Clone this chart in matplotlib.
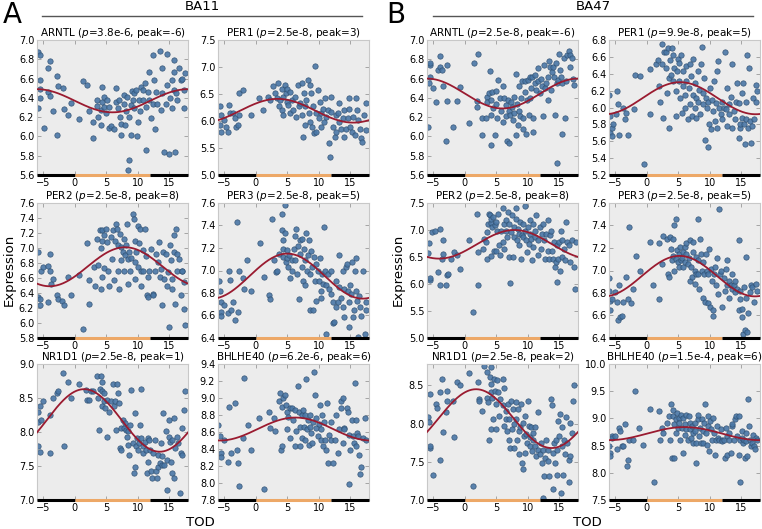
import numpy as np
import matplotlib
matplotlib.use("Agg")
import matplotlib.pyplot as plt
from matplotlib.ticker import FormatStrFormatter, MultipleLocator

# ---------------- data ----------------
# BA11 / ARNTL
a_arntl_x = [-5.9,-5.6,-5.6,-5.5,-5.5,-5.9,-4.9,-4.3,-4.0,-4.3,-3.9,-3.5,-2.8,-2.8,-2.7,-1.9,-1.7,-1.1,-0.6,0.6,1.3,2.0,2.2,2.9,2.9,3.5,3.6,3.7,4.1,4.2,4.4,4.6,4.4,4.7,5.0,5.2,5.4,5.5,5.7,6.2,6.5,6.5,6.8,7.1,7.2,7.3,7.4,7.8,7.9,8.0,8.1,8.3,8.4,8.7,8.7,8.9,8.9,9.1,9.2,9.4,9.4,9.7,9.9,10.0,10.2,10.4,10.5,10.8,10.9,11.1,11.3,11.3,11.6,11.8,11.8,12.1,12.4,12.5,12.6,12.7,12.9,13.0,13.6,13.7,13.9,13.9,14.2,14.5,14.6,14.6,15.0,15.2,15.4,15.5,15.7,15.8,15.8,15.9,16.1,16.3,16.6,16.9,17.1,17.3,17.4,17.5]
a_arntl_y = [6.88,6.84,6.59,6.49,6.40,6.29,6.09,6.46,6.42,6.71,6.78,6.26,6.63,6.01,6.52,6.50,6.28,6.22,6.35,6.18,6.57,6.53,6.26,6.15,5.98,6.32,6.38,6.20,6.12,6.27,6.36,6.41,6.51,6.31,6.24,6.38,6.09,6.31,6.11,6.08,6.36,6.50,6.29,6.38,6.20,6.13,6.01,6.34,6.43,6.12,6.26,6.41,5.65,5.76,6.20,6.33,6.01,6.47,6.38,6.45,6.29,6.48,6.00,6.15,6.38,6.26,6.51,6.48,6.38,6.55,6.31,5.86,6.46,6.67,6.38,6.19,6.84,6.34,6.59,6.08,6.46,6.34,6.89,6.27,6.71,6.45,5.84,6.34,6.53,6.86,5.82,6.40,6.29,6.59,6.67,6.79,6.48,5.84,6.45,6.38,6.71,6.59,6.60,6.48,6.29,6.66]

# BA11 / PER1
a_per1_x = [-5.7,-5.6,-5.7,-5.5,-5.1,-4.7,-4.3,-4.1,-4.4,-3.6,-3.3,-3.1,-2.8,-2.6,-2.7,-2.0,-0.7,0.5,1.2,2.0,2.2,2.7,3.0,3.3,3.5,3.7,3.8,4.1,4.2,4.3,4.4,4.6,4.8,4.9,5.0,5.1,5.4,5.5,5.7,5.9,6.3,6.4,6.7,6.8,7.0,7.3,7.4,7.5,7.6,7.8,7.9,8.0,8.3,8.5,8.6,8.7,8.8,9.0,9.1,9.2,9.4,9.5,9.6,9.9,10.1,10.2,10.3,10.4,10.7,10.8,11.0,11.2,11.5,11.7,11.8,11.9,12.0,12.3,12.6,12.7,12.8,13.1,13.2,13.3,13.6,13.9,14.0,14.1,14.4,14.7,14.8,14.9,15.0,15.3,15.5,15.7,16.0,16.1,16.3,16.5,16.8,16.9,17.2,17.5,17.6]
a_per1_y = [6.28,6.11,5.93,5.80,6.02,5.89,6.30,6.14,5.80,6.14,6.05,5.89,5.93,6.11,6.51,6.57,6.11,6.42,6.20,6.45,6.39,6.64,6.51,6.42,6.70,6.27,6.39,6.20,6.60,6.11,6.45,6.67,6.51,6.36,6.60,6.30,6.54,6.14,6.39,6.20,6.45,6.08,6.67,6.27,6.33,6.70,6.11,5.71,6.51,6.27,5.93,6.39,6.76,6.14,6.67,5.99,6.51,5.89,6.27,5.77,7.01,5.80,6.14,6.57,6.05,6.36,5.89,6.14,6.23,5.99,6.42,6.08,6.20,5.59,5.34,6.17,6.45,5.89,5.71,6.11,5.80,6.14,6.33,5.99,5.86,6.05,6.20,5.71,5.86,6.05,6.23,6.42,5.89,5.80,6.08,5.74,6.42,6.20,6.02,5.86,5.68,5.62,6.11,6.33,5.83]

# BA11 / PER2
a_per2_x = [-5.8,-5.8,-5.6,-5.5,-5.4,-5.0,-4.3,-4.3,-4.0,-3.9,-3.8,-3.5,-2.8,-2.7,-2.1,-1.7,-1.1,-0.6,0.6,1.3,2.0,2.2,2.2,3.1,3.2,3.6,3.7,4.0,4.1,4.2,4.3,4.4,4.4,4.6,4.7,5.0,5.1,5.3,5.5,5.7,5.9,6.0,6.3,6.4,6.5,6.7,6.8,6.9,7.1,7.2,7.3,7.4,7.6,7.8,7.9,8.0,8.1,8.3,8.4,8.5,8.7,8.8,9.0,9.2,9.4,9.5,9.5,9.6,9.7,10.0,10.1,10.2,10.4,10.5,10.6,10.8,10.9,11.1,11.3,11.5,11.6,11.7,11.8,12.1,12.4,12.5,12.7,12.9,13.2,13.4,13.6,13.7,13.9,14.1,14.2,14.5,14.7,14.8,15.0,15.2,15.3,15.4,15.5,15.7,15.8,15.9,16.1,16.2,16.3,16.6,16.9,17.0,17.1,17.3,17.4,17.5]
a_per2_y = [6.95,6.35,6.24,6.32,6.70,6.75,6.76,6.28,6.70,6.92,6.52,6.59,6.37,6.32,6.30,6.24,6.62,6.37,6.64,5.92,7.07,6.57,6.25,6.75,6.50,7.12,6.77,7.24,6.46,7.00,7.24,7.10,6.61,7.17,6.74,7.26,7.08,6.70,6.50,7.15,6.86,7.24,6.57,7.10,7.32,7.26,7.04,6.70,6.46,7.19,6.84,7.02,6.95,6.70,7.12,6.91,7.04,7.32,6.52,6.86,6.95,6.70,6.87,7.46,7.39,7.10,6.81,6.59,6.95,7.30,6.75,7.07,7.26,6.50,6.70,6.97,6.70,7.26,6.90,6.37,6.61,6.35,6.70,6.99,6.39,6.37,6.70,6.92,6.81,7.08,6.61,6.72,6.24,6.95,6.59,6.92,6.50,6.68,5.95,7.04,6.84,6.46,6.59,6.95,7.17,6.26,7.26,6.92,6.70,6.86,6.37,6.70,6.70,6.19,6.55,5.97]

# BA11 / PER3
a_per3_x = [-5.9,-5.7,-5.6,-5.5,-5.5,-5.1,-4.4,-4.3,-4.1,-4.0,-3.6,-3.3,-3.0,-2.8,-2.7,-2.0,-1.8,-1.4,-0.7,0.6,1.3,2.1,2.2,2.6,2.9,3.2,3.4,3.7,4.1,4.2,4.3,4.3,4.4,4.6,4.6,4.8,4.9,5.0,5.1,5.3,5.4,5.7,5.8,6.0,6.2,6.3,6.4,6.5,6.7,6.8,7.0,7.1,7.3,7.4,7.5,7.6,7.8,7.9,8.0,8.2,8.3,8.5,8.6,8.7,8.8,9.0,9.1,9.2,9.4,9.5,9.6,9.9,10.1,10.2,10.3,10.4,10.6,10.7,10.8,11.0,11.1,11.2,11.5,11.7,11.9,12.0,12.2,12.3,12.4,12.7,12.8,13.1,13.2,13.3,13.6,13.8,13.9,14.0,14.1,14.3,14.5,14.7,14.8,14.9,15.0,15.2,15.3,15.5,15.6,15.7,15.9,16.0,16.1,16.3,16.4,16.6,16.8,17.0,17.3,17.5,17.6]
a_per3_y = [6.91,6.82,6.72,6.63,6.60,6.69,6.62,7.00,6.92,6.65,6.72,6.56,7.43,6.63,7.00,6.93,6.84,7.09,6.82,7.24,6.94,6.78,6.75,7.46,7.09,6.99,7.00,7.15,7.50,7.36,7.27,7.19,7.12,7.58,7.33,7.08,7.18,7.11,7.03,7.14,6.93,7.00,7.09,7.19,7.31,7.09,7.37,6.97,7.22,6.75,7.27,7.15,7.03,7.28,6.91,7.19,7.09,6.87,7.33,7.00,7.14,7.27,6.97,6.65,7.17,7.03,6.65,7.12,6.91,7.06,6.73,7.00,6.91,7.11,6.76,6.82,6.97,6.88,7.39,7.00,6.87,6.44,6.97,6.84,7.00,6.79,6.72,6.53,6.54,6.91,6.68,6.72,7.14,6.85,6.76,6.68,7.00,6.59,6.84,7.03,7.06,6.82,6.72,6.50,6.87,6.79,7.08,6.59,6.65,7.00,7.11,6.82,6.73,6.41,6.77,6.68,6.60,7.00,6.44,6.65,6.72]

# BA11 / NR1D1
a_nr1d1_x = [-5.9,-5.8,-5.8,-5.6,-5.5,-5.4,-5.0,-4.0,-3.9,-3.5,-2.8,-2.7,-1.9,-1.7,-1.1,-0.6,0.6,1.8,2.0,2.2,2.6,2.9,3.6,3.7,3.9,4.0,4.2,4.3,4.4,4.4,4.6,4.7,4.8,5.1,5.2,5.5,5.7,6.0,6.2,6.4,6.5,6.7,6.8,7.1,7.2,7.3,7.4,7.6,7.8,8.0,8.1,8.3,8.4,8.5,8.7,8.8,9.0,9.2,9.4,9.5,9.6,9.7,9.9,10.0,10.2,10.4,10.5,10.6,10.8,10.9,11.1,11.3,11.5,11.6,11.7,11.8,12.0,12.1,12.2,12.5,12.7,12.9,13.0,13.2,13.3,13.6,13.7,13.8,13.9,14.1,14.2,14.5,14.6,14.7,15.0,15.0,15.2,15.3,15.4,15.5,15.7,15.8,15.9,16.2,16.4,16.7,16.9,17.0,17.1,17.3,17.5]
a_nr1d1_y = [7.79,8.29,8.15,8.38,7.71,8.18,8.46,7.69,8.25,8.50,8.57,8.60,8.87,7.79,8.74,8.50,8.70,8.62,8.47,8.47,8.60,8.60,8.83,8.50,8.03,8.63,8.83,8.74,8.60,8.38,8.57,8.45,8.35,7.93,8.47,8.30,8.45,8.70,8.38,8.45,8.03,8.70,8.57,8.43,7.76,7.74,8.06,8.18,8.06,8.13,8.03,7.93,7.81,8.01,7.66,8.11,8.62,7.84,7.39,7.49,8.28,7.79,7.91,7.74,7.84,8.11,8.63,7.91,7.79,7.69,7.86,7.74,7.39,7.56,7.91,7.88,7.74,7.42,7.32,7.69,7.88,7.42,7.32,7.66,7.49,7.54,7.84,7.64,7.52,8.28,7.52,8.01,7.15,7.59,7.93,8.18,7.86,7.56,7.39,7.88,8.20,7.32,7.76,7.93,7.84,7.10,7.69,7.66,8.06,8.33,8.60]

# BA11 / BHLHE40
a_bhlhe40_x = [-6.0,-5.7,-5.6,-5.5,-5.1,-4.4,-4.3,-3.9,-3.3,-3.0,-2.8,-2.7,-2.0,-1.8,-1.2,-0.7,0.5,1.3,2.1,2.2,2.9,3.0,3.7,3.8,4.0,4.1,4.2,4.3,4.6,4.8,4.9,5.0,5.1,5.4,5.5,5.7,5.9,6.2,6.3,6.4,6.7,6.8,7.0,7.1,7.3,7.4,7.5,7.6,7.8,7.9,8.0,8.2,8.3,8.5,8.6,8.7,8.8,9.0,9.1,9.3,9.4,9.5,9.6,9.9,10.1,10.2,10.3,10.4,10.6,10.7,10.8,11.0,11.2,11.4,11.5,11.7,11.9,12.0,12.3,12.6,12.8,13.1,13.2,13.5,13.6,13.8,13.9,14.0,14.1,14.5,14.7,14.8,14.9,15.0,15.3,15.5,15.6,15.7,15.9,16.0,16.1,16.3,16.4,16.6,16.8,17.0,17.3,17.5]
a_bhlhe40_y = [8.68,8.55,8.35,8.31,8.51,8.25,8.90,8.35,8.94,8.39,8.23,7.96,8.53,9.24,8.68,8.39,8.76,7.93,8.84,8.65,8.76,8.61,8.96,9.06,8.39,8.90,8.43,9.00,9.04,8.92,8.63,8.84,8.78,8.88,8.53,8.88,8.74,8.43,8.86,8.61,9.14,8.84,8.66,8.43,8.80,8.53,8.86,8.66,8.51,8.80,9.22,8.63,8.74,8.45,8.66,8.80,8.59,8.47,8.72,9.31,9.04,8.65,8.76,8.55,8.70,8.92,8.51,8.63,8.80,8.43,8.72,8.51,8.39,8.94,8.23,8.57,8.51,8.72,8.23,8.51,8.80,8.35,8.63,8.96,8.88,8.47,9.00,8.65,8.63,8.88,8.84,8.57,7.99,8.39,8.74,8.55,8.47,9.18,8.74,8.43,8.59,8.55,8.33,8.11,8.19,8.53,8.76,8.51]

# BA47 / ARNTL
b_arntl_x = [-5.9,-5.7,-5.6,-5.5,-5.5,-5.0,-4.5,-4.2,-4.0,-3.9,-3.6,-3.4,-3.0,-2.8,-2.8,-1.9,-1.3,-0.7,0.6,1.4,1.9,2.0,2.1,2.7,2.8,3.3,3.5,3.6,3.9,4.0,4.1,4.2,4.2,4.4,4.5,4.8,4.9,5.0,5.1,5.3,5.6,5.8,6.0,6.1,6.3,6.5,6.6,6.7,6.9,7.0,7.1,7.2,7.4,7.5,7.7,7.8,7.9,8.1,8.2,8.3,8.4,8.6,8.7,8.8,9.0,9.1,9.2,9.3,9.5,9.6,9.8,9.9,10.0,10.2,10.3,10.4,10.5,10.7,10.8,10.9,11.1,11.2,11.3,11.6,11.7,11.9,12.1,12.3,12.4,12.6,12.8,12.9,13.2,13.3,13.4,13.5,13.7,13.8,14.0,14.2,14.4,14.5,14.6,14.7,14.9,15.0,15.1,15.3,15.4,15.5,15.8,15.9,16.1,16.3,16.6,16.7,16.8,17.1,17.2,17.4]
b_arntl_y = [6.10,6.55,6.74,6.76,6.62,6.50,6.36,6.69,6.72,6.83,6.69,6.52,5.95,6.74,6.37,6.10,6.37,6.51,6.14,6.76,6.37,6.31,6.85,6.19,6.01,6.19,6.41,6.36,6.45,6.68,6.38,6.22,5.91,6.46,6.29,6.01,6.47,6.34,6.19,6.59,6.40,6.26,6.15,6.52,6.40,6.33,6.21,5.95,6.38,6.26,5.93,6.22,6.36,6.31,6.17,6.41,6.24,6.01,6.65,6.34,6.12,6.26,6.52,6.21,6.40,6.57,6.19,6.08,6.46,6.57,6.03,6.38,6.59,6.22,6.62,6.40,6.50,6.62,6.05,6.19,6.55,6.64,6.48,6.57,6.71,6.45,6.60,6.52,6.21,6.74,6.50,6.55,6.62,6.38,6.78,6.72,6.48,6.67,6.72,6.62,6.22,6.76,6.55,5.72,6.59,6.86,6.69,6.62,6.03,6.55,6.81,6.19,6.57,6.84,6.89,6.72,6.84,6.81,6.60,6.53]

# BA47 / PER1
b_per1_x = [-6.0,-5.9,-5.8,-5.6,-5.5,-5.4,-4.9,-4.7,-4.6,-4.4,-3.8,-3.4,-3.3,-3.0,-2.1,-1.8,-1.1,-0.4,0.5,0.5,1.4,1.8,2.0,2.1,2.4,2.5,2.6,2.8,3.0,3.1,3.2,3.3,3.5,3.6,3.7,3.9,4.0,4.1,4.2,4.4,4.6,4.7,4.8,4.9,5.1,5.2,5.3,5.4,5.6,5.7,5.8,6.0,6.1,6.2,6.3,6.5,6.7,6.8,6.9,7.0,7.2,7.3,7.4,7.6,7.7,7.8,7.9,8.1,8.2,8.3,8.5,8.6,8.8,8.9,9.0,9.1,9.3,9.4,9.5,9.7,9.8,9.9,10.0,10.2,10.4,10.5,10.7,10.9,11.0,11.1,11.2,11.4,11.5,11.8,12.0,12.0,12.3,12.5,12.6,12.7,12.8,13.0,13.1,13.4,13.5,13.6,13.9,14.0,14.2,14.4,14.6,14.7,14.8,14.9,15.1,15.2,15.3,15.5,15.6,15.7,15.8,16.0,16.1,16.3,16.4,16.5,16.7,16.9,17.1,17.3,17.4,17.6]
b_per1_y = [6.15,5.70,5.90,5.76,5.66,5.80,5.92,6.20,6.04,5.68,6.00,5.86,5.94,5.68,5.98,6.38,6.37,5.33,6.46,5.92,6.51,6.56,6.25,6.07,6.75,6.51,5.88,6.66,6.66,6.47,6.17,6.70,6.35,5.76,6.56,6.39,6.70,6.31,6.62,6.47,6.19,5.90,6.43,6.58,6.31,6.53,6.11,6.62,5.94,6.25,6.43,5.99,6.15,6.31,6.49,5.86,6.23,6.04,6.51,6.37,5.90,6.15,6.58,5.99,6.29,6.11,5.88,6.43,6.07,6.21,5.92,6.51,6.72,6.17,6.04,6.35,5.62,6.11,5.99,5.53,6.07,5.80,6.23,5.74,6.09,5.96,6.31,5.84,6.05,6.43,5.76,6.55,5.99,5.92,6.07,5.86,5.99,6.66,5.98,5.78,6.23,6.04,5.92,6.13,5.76,6.51,5.96,5.86,6.07,6.29,5.64,6.05,5.76,5.80,6.17,5.88,6.29,5.80,5.57,5.86,6.07,6.62,5.76,6.47,5.84,5.58,5.78,6.11,5.86,6.27,6.07,6.19]

# BA47 / PER2
b_per2_x = [-5.9,-5.7,-5.6,-5.5,-5.2,-4.8,-4.2,-4.0,-3.9,-3.6,-3.5,-3.4,-3.0,-2.8,-2.6,-2.2,-1.7,-1.3,-0.7,0.6,1.3,1.9,2.1,2.1,2.9,3.0,3.3,3.5,3.6,3.7,3.9,4.0,4.1,4.2,4.2,4.4,4.5,4.6,4.8,4.9,5.0,5.1,5.3,5.4,5.6,5.8,6.0,6.1,6.2,6.3,6.5,6.6,6.7,6.9,7.0,7.1,7.2,7.4,7.5,7.7,7.8,7.9,8.1,8.2,8.3,8.5,8.6,8.7,8.8,9.0,9.1,9.2,9.3,9.5,9.6,9.8,9.9,10.0,10.2,10.3,10.4,10.5,10.7,10.8,10.9,11.1,11.2,11.3,11.6,11.7,11.9,12.1,12.3,12.4,12.6,12.8,12.9,13.2,13.3,13.4,13.5,13.7,13.8,14.0,14.2,14.4,14.5,14.6,14.7,14.9,15.0,15.1,15.3,15.4,15.5,15.8,15.9,16.1,16.3,16.6,16.8,17.1,17.4,17.6,17.7]
b_per2_y = [6.57,6.76,6.07,6.12,6.96,6.99,6.22,5.98,7.02,6.47,6.56,6.81,5.98,6.16,6.19,6.47,6.59,6.53,6.27,6.82,5.48,7.30,6.59,5.98,6.65,6.84,6.78,6.47,6.96,7.12,7.30,7.27,7.13,7.21,6.51,7.06,7.24,6.62,7.09,7.15,6.62,6.99,7.30,6.72,6.53,6.99,6.78,7.40,7.12,6.65,6.99,7.18,6.87,7.33,6.50,7.12,6.01,6.96,7.27,6.50,7.06,6.87,7.40,7.21,6.81,7.02,6.93,6.72,7.15,6.47,6.90,7.12,6.87,6.99,7.44,6.81,6.59,7.06,6.75,6.93,7.18,6.84,6.44,7.12,6.69,6.99,6.87,7.27,6.53,6.81,7.06,6.65,6.93,7.12,6.81,6.47,6.93,7.18,6.62,6.47,6.90,6.99,6.62,6.47,6.78,6.31,6.41,6.04,6.72,6.47,6.78,6.25,6.99,6.50,6.81,6.65,6.44,7.15,6.78,6.72,6.41,6.81,6.31,5.91,6.78]

# BA47 / PER3
b_per3_x = [-6.0,-6.0,-5.8,-5.8,-5.6,-5.1,-4.7,-4.6,-4.4,-4.2,-3.9,-3.7,-3.3,-3.0,-2.8,-2.5,-2.2,-1.7,-1.1,0.5,1.0,1.9,2.0,2.4,2.6,3.2,3.3,3.5,3.7,3.9,4.0,4.1,4.2,4.4,4.4,4.6,4.7,4.8,4.9,5.1,5.2,5.3,5.4,5.6,5.7,5.8,6.0,6.1,6.2,6.3,6.5,6.7,6.8,6.9,7.0,7.2,7.3,7.4,7.6,7.7,7.8,7.9,8.1,8.1,8.2,8.3,8.5,8.6,8.8,8.9,9.0,9.1,9.3,9.4,9.5,9.7,9.8,9.9,10.0,10.2,10.4,10.5,10.6,10.7,10.9,11.0,11.1,11.4,11.5,11.6,11.8,12.0,12.3,12.5,12.6,12.7,12.8,13.0,13.1,13.4,13.5,13.6,13.9,14.0,14.1,14.4,14.6,14.7,14.8,14.9,15.1,15.2,15.3,15.5,15.6,15.7,15.8,16.0,16.1,16.4,16.5,16.8,17.1,17.3,17.6]
b_per3_y = [6.93,6.82,6.73,6.65,6.75,6.81,6.72,6.56,6.87,6.59,6.60,6.72,6.94,6.75,7.39,6.71,6.84,7.13,7.00,7.25,6.87,7.24,6.75,7.06,7.31,7.28,6.97,6.94,7.30,7.19,7.09,7.28,7.13,7.40,7.00,7.46,7.10,7.18,7.08,7.15,7.03,7.21,7.09,7.11,7.16,7.03,7.21,7.08,7.15,7.24,7.06,7.11,7.27,6.91,7.03,6.94,7.16,7.25,7.00,6.88,7.12,6.97,7.46,7.09,6.97,6.84,7.28,7.15,7.00,6.76,7.08,6.97,6.72,7.15,7.00,6.71,6.97,7.19,6.68,7.01,6.91,6.65,6.60,6.97,7.03,6.87,7.11,6.79,7.55,6.97,7.00,6.68,6.93,6.82,7.01,6.87,7.09,6.91,6.76,6.87,6.84,6.97,6.87,6.81,6.91,6.84,6.65,7.27,6.75,6.82,6.59,6.66,6.44,6.85,6.47,7.12,6.76,6.45,6.62,6.81,6.87,6.85,6.72,6.88,6.82]

# BA47 / NR1D1
b_nr1d1_x = [-5.9,-5.7,-5.6,-5.5,-5.6,-5.0,-4.5,-4.4,-4.0,-3.9,-3.6,-3.5,-3.0,-2.8,-2.8,-1.9,-1.7,-1.2,-0.7,0.6,1.3,2.1,2.2,2.2,2.8,3.0,3.5,3.6,3.7,3.9,4.0,4.1,4.1,4.2,4.2,4.4,4.5,4.6,4.8,4.9,5.0,5.1,5.3,5.4,5.6,6.0,6.1,6.2,6.3,6.5,6.6,6.7,6.9,7.0,7.1,7.2,7.4,7.5,7.7,7.8,7.9,8.1,8.2,8.3,8.4,8.6,8.7,8.8,9.0,9.1,9.2,9.3,9.4,9.5,9.6,9.8,9.9,10.0,10.2,10.3,10.4,10.5,10.7,10.8,10.9,11.1,11.2,11.3,11.6,11.7,11.9,12.1,12.3,12.4,12.5,12.6,12.8,12.9,13.2,13.3,13.4,13.7,13.8,14.0,14.1,14.2,14.4,14.5,14.6,14.7,14.9,15.0,15.1,15.3,15.4,15.5,15.6,15.8,15.9,16.1,16.3,16.5,16.6,16.7,16.8,17.1,17.2,17.4]
b_nr1d1_y = [8.08,8.02,7.68,7.71,8.39,7.33,8.26,8.21,8.42,7.53,8.58,7.89,8.15,8.43,8.30,8.30,7.82,8.54,8.50,8.66,7.18,8.54,8.32,8.30,8.17,8.76,8.33,8.68,8.28,7.78,8.61,8.52,7.93,8.74,8.41,8.33,8.06,8.59,8.43,8.26,7.93,8.57,8.41,8.10,8.32,8.59,8.24,7.97,8.46,8.17,8.06,7.90,8.26,8.06,7.79,7.68,8.30,7.93,8.19,7.68,7.99,8.28,8.06,7.79,8.19,7.90,7.60,7.95,8.26,7.49,8.01,7.40,7.84,8.10,7.62,7.86,7.75,8.30,7.97,7.71,7.82,7.95,7.64,7.79,7.88,7.71,7.95,7.57,7.66,8.15,7.60,7.75,7.49,7.02,7.66,7.31,7.55,7.79,7.66,7.51,7.31,8.32,8.24,7.62,7.15,7.75,7.49,7.79,7.33,7.66,8.04,7.84,8.12,7.09,7.71,7.95,7.33,7.79,7.60,8.08,7.75,7.53,7.24,7.57,8.01,7.88,8.30,8.50]

# BA47 / BHLHE40
b_bhlhe40_x = [-6.0,-5.9,-5.8,-5.6,-5.5,-5.1,-4.7,-4.4,-4.3,-4.0,-3.8,-3.4,-3.2,-3.0,-2.8,-2.2,-1.8,-1.3,-0.6,0.5,1.2,2.0,2.1,2.4,2.6,3.2,3.5,3.7,3.9,4.0,4.1,4.2,4.4,4.4,4.6,4.7,4.8,4.9,5.1,5.2,5.3,5.4,5.6,5.7,5.8,6.0,6.1,6.2,6.3,6.5,6.7,6.8,6.9,7.0,7.2,7.3,7.4,7.6,7.7,7.8,7.9,8.1,8.2,8.3,8.5,8.6,8.8,8.9,9.0,9.1,9.3,9.4,9.5,9.7,9.8,9.9,10.0,10.2,10.4,10.5,10.7,10.9,11.0,11.1,11.4,11.5,11.8,12.0,12.0,12.3,12.5,12.6,12.7,12.8,13.0,13.1,13.4,13.5,13.6,13.9,14.0,14.2,14.4,14.6,14.7,14.8,14.9,15.1,15.2,15.3,15.5,15.6,15.7,15.8,16.0,16.1,16.3,16.4,16.5,16.7,16.9,17.1,17.2,17.3,17.6]
b_bhlhe40_y = [8.49,8.36,8.30,8.67,8.64,8.67,8.43,8.83,8.77,8.49,8.49,8.89,8.12,8.24,8.61,8.61,9.51,8.83,8.52,9.17,7.84,9.14,8.61,8.83,8.73,8.92,9.04,8.61,9.26,8.27,9.15,9.04,8.89,8.27,8.98,8.73,9.10,8.83,9.01,8.92,8.61,9.07,8.83,9.01,8.36,8.89,8.70,9.07,8.80,8.61,9.04,8.80,8.92,8.64,8.86,8.73,8.55,8.92,8.77,8.18,8.55,8.98,9.07,8.67,8.83,8.55,8.98,8.77,8.55,8.92,9.26,8.73,8.52,9.04,8.86,8.40,8.95,8.80,8.61,9.01,8.73,8.33,8.61,8.86,8.64,8.61,8.80,8.61,8.58,8.61,8.27,8.83,8.33,8.67,8.61,8.73,8.36,8.86,8.89,8.61,8.98,9.04,8.67,8.33,9.04,8.61,7.84,8.77,8.64,8.55,8.61,8.27,8.58,8.73,8.30,9.35,8.86,8.61,8.49,8.55,8.70,8.49,8.43,8.64,8.61]

# fitted cosine curves: (mean, amplitude, peak time)
a_fit = [(6.37, 0.12, -6.0), (6.19, 0.22, 3.5), (6.75, 0.26, 8.0),
         (6.95, 0.20, 5.0), (8.17, 0.46, 1.5), (8.635, 0.135, 6.3)]
b_fit = [(6.445, 0.155, -6.0), (6.11, 0.19, 5.3), (6.735, 0.265, 7.9),
         (6.95, 0.18, 5.2), (8.065, 0.385, 1.8), (8.72, 0.12, 6.0)]

a_titles = ['ARNTL ($p$=3.8e-6, peak=-6)', 'PER1 ($p$=2.5e-8, peak=3)',
            'PER2 ($p$=2.5e-8, peak=8)', 'PER3 ($p$=2.5e-8, peak=5)',
            'NR1D1 ($p$=2.5e-8, peak=1)', 'BHLHE40 ($p$=6.2e-6, peak=6)']
b_titles = ['ARNTL ($p$=2.5e-8, peak=-6)', 'PER1 ($p$=9.9e-8, peak=5)',
            'PER2 ($p$=2.5e-8, peak=8)', 'PER3 ($p$=2.5e-8, peak=5)',
            'NR1D1 ($p$=2.5e-8, peak=2)', 'BHLHE40 ($p$=1.5e-4, peak=6)']

a_data = [(a_arntl_x, a_arntl_y), (a_per1_x, a_per1_y), (a_per2_x, a_per2_y),
          (a_per3_x, a_per3_y), (a_nr1d1_x, a_nr1d1_y), (a_bhlhe40_x, a_bhlhe40_y)]
b_data = [(b_arntl_x, b_arntl_y), (b_per1_x, b_per1_y), (b_per2_x, b_per2_y),
          (b_per3_x, b_per3_y), (b_nr1d1_x, b_nr1d1_y), (b_bhlhe40_x, b_bhlhe40_y)]

# y-axis ranges (lo, hi, step)
a_ylims = [(5.6, 7.0, 0.2), (5.0, 7.5, 0.5), (5.8, 7.6, 0.2),
           (6.4, 7.6, 0.2), (7.0, 9.0, 0.5), (7.8, 9.4, 0.2)]
b_ylims = [(5.6, 7.0, 0.2), (5.2, 6.8, 0.2), (5.0, 7.5, 0.5),
           (6.4, 7.6, 0.2), (7.0, 8.78, 0.5), (7.5, 10.0, 0.5)]

day_start, day_end = 0, 12
tmin, tmax = -6, 18

# ---------------- drawing ----------------
W, H = 762, 529
fig = plt.figure(figsize=(W / 100, H / 100), dpi=100)

row_top = [40, 203, 364]
row_h = [135, 135, 136]
a_cols = [37, 218]
b_cols = [427, 609]
col_w = 151


def draw_panel(left, top, h, xs, ys, fit, title, ylim):
    ax = fig.add_axes([left / W, 1 - (top + h) / H, col_w / W, h / H])
    ax.set_facecolor('#ececec')
    for s in ax.spines.values():
        s.set_color('#c8c8c8')
        s.set_linewidth(0.8)
    ax.scatter(xs, ys, s=15, color='#4a77a6', edgecolor='#2f4f70',
               linewidth=0.5, alpha=0.9, zorder=2)
    t = np.linspace(tmin, tmax, 200)
    m, amp, pk = fit
    ax.plot(t, m + amp * np.cos(2 * np.pi * (t - pk) / 24.0),
            color='#9a1b30', lw=1.3, zorder=3)
    tr = ax.get_xaxis_transform()
    for a, b, col in [(tmin, day_start, 'black'), (day_start, day_end, '#eda867'),
                      (day_end, tmax, 'black')]:
        ax.plot([a, b], [0, 0], color=col, lw=2.2, transform=tr,
                clip_on=False, solid_capstyle='butt', zorder=4)
    lo, hi, step = ylim
    ax.set_xlim(tmin, tmax)
    ax.set_ylim(lo, hi)
    ax.xaxis.set_major_locator(MultipleLocator(5))
    ax.yaxis.set_major_locator(MultipleLocator(step))
    ax.yaxis.set_major_formatter(FormatStrFormatter('%.1f'))
    ax.tick_params(direction='in', length=3, width=0.6, color='#999999',
                   labelsize=7, top=True, right=True, pad=2)
    ax.set_title(title, fontsize=7.5, pad=3)
    return ax


for i in range(6):
    r, c = divmod(i, 2)
    draw_panel(a_cols[c], row_top[r], row_h[r], a_data[i][0], a_data[i][1],
               a_fit[i], a_titles[i], a_ylims[i])
    draw_panel(b_cols[c], row_top[r], row_h[r], b_data[i][0], b_data[i][1],
               b_fit[i], b_titles[i], b_ylims[i])

# header text and lines
fig.text(3 / W, 1 - 23 / H, 'A', fontsize=20, ha='left', va='baseline')
fig.text(386 / W, 1 - 23 / H, 'B', fontsize=20, ha='left', va='baseline')
fig.text(202 / W, 1 - 7 / H, 'BA11', fontsize=9.5, ha='center', va='center')
fig.text(593 / W, 1 - 7 / H, 'BA47', fontsize=9.5, ha='center', va='center')
fig.add_artist(plt.Line2D([42 / W, 362 / W], [1 - 16 / H, 1 - 16 / H],
                          color='#555555', lw=1))
fig.add_artist(plt.Line2D([433 / W, 753 / W], [1 - 16 / H, 1 - 16 / H],
                          color='#555555', lw=1))
fig.text(9 / W, 1 - 270 / H, 'Expression', fontsize=9.5, rotation=90,
         ha='center', va='center')
fig.text(398 / W, 1 - 270 / H, 'Expression', fontsize=9.5, rotation=90,
         ha='center', va='center')
fig.text(200 / W, 1 - 523 / H, 'TOD', fontsize=9.5, ha='center', va='center')
fig.text(587 / W, 1 - 523 / H, 'TOD', fontsize=9.5, ha='center', va='center')

fig.savefig('out.png', dpi=100)
